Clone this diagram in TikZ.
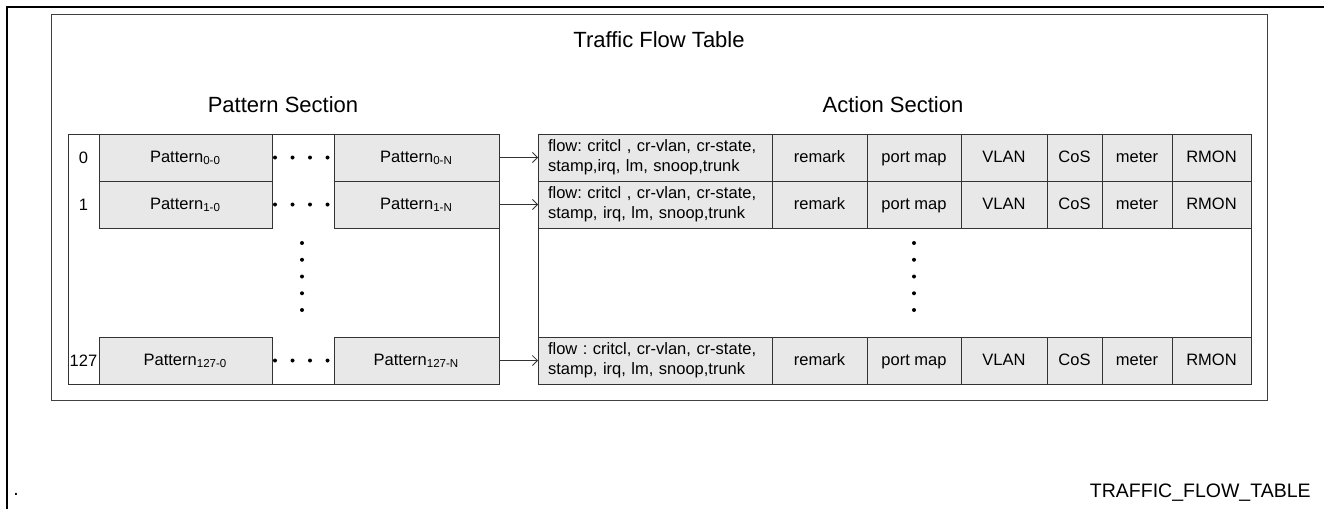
\documentclass[tikz,border=0pt]{standalone}
\usepackage{fontspec}
\setmainfont{Liberation Sans}
\usetikzlibrary{positioning,arrows.meta,fit,backgrounds}

\definecolor{cellgray}{RGB}{232,232,232}
\newcommand\cellfont{\fontsize{8.25}{10}\selectfont\frenchspacing}
\newcommand\headfont{\fontsize{11}{13}\selectfont}
\newcommand\notefont{\fontsize{9.75}{12}\selectfont}

\begin{document}
\begin{tikzpicture}[
  x=0.5pt, y=-0.5pt,
  font=\cellfont,
  cellbase/.style={draw=black!80, fill=cellgray, minimum height=23.5pt,
               inner xsep=1pt, inner ysep=1pt, outer sep=0pt},
  cell/.style={cellbase, align=center, text height=6.2pt, text depth=1.7pt},
  idx/.style ={minimum width=15.5pt, minimum height=23.5pt,
               inner sep=0pt, outer sep=0pt},
  pat/.style ={cell, minimum width=86.5pt},
  patn/.style={cell, minimum width=82.5pt},
  flow/.style={cellbase, align=left, text width=107pt, inner xsep=5pt},
  head/.style={font=\headfont, inner sep=0pt},
  tab/.style ={draw=black!80, inner sep=0pt},
  arr/.style ={-{Straight Barb[length=2.5pt,width=5pt]}, draw=black!80},
]

\useasboundingbox (0,0) rectangle (1324,509);

\node[head, anchor=base] (title) at (659,47) {Traffic Flow Table};
\node[head, anchor=base] (psec) at (283,112) {Pattern Section};
\node[head, anchor=base] (asec) at (893,112) {Action Section};

% row 0
\node[idx, anchor=north west] (i0) at (68,134) {0};
\node[pat, right=0pt of i0] (p0a) {Pattern\textsubscript{0-0}};
\node[patn, right=31pt of p0a] (p0n) {Pattern\textsubscript{0-N}};
\node[flow, right=19.5pt of p0n] (f0)
  {flow: critcl , cr-vlan, cr-state,\\stamp,irq, lm, snoop,trunk};
\node[cell, minimum width=47.5pt, right=0pt of f0] (rm0) {remark};
\node[cell, minimum width=47pt, right=0pt of rm0] (pm0) {port map};
\node[cell, minimum width=43pt, right=0pt of pm0] (vl0) {VLAN};
\node[cell, minimum width=27.5pt, right=0pt of vl0] (cs0) {CoS};
\node[cell, minimum width=35pt, right=0pt of cs0] (mt0) {meter};
\node[cell, minimum width=39.5pt, right=0pt of mt0] (rn0) {RMON};

% row 1
\node[idx, below=0pt of i0] (i1) {1};
\node[pat, right=0pt of i1] (p1a) {Pattern\textsubscript{1-0}};
\node[patn, right=31pt of p1a] (p1n) {Pattern\textsubscript{1-N}};
\node[flow, right=19.5pt of p1n] (f1)
  {flow: critcl , cr-vlan, cr-state,\\stamp, irq, lm, snoop,trunk};
\node[cell, minimum width=47.5pt, right=0pt of f1] (rm1) {remark};
\node[cell, minimum width=47pt, right=0pt of rm1] (pm1) {port map};
\node[cell, minimum width=43pt, right=0pt of pm1] (vl1) {VLAN};
\node[cell, minimum width=27.5pt, right=0pt of vl1] (cs1) {CoS};
\node[cell, minimum width=35pt, right=0pt of cs1] (mt1) {meter};
\node[cell, minimum width=39.5pt, right=0pt of mt1] (rn1) {RMON};

% row 127
\node[idx, below=54.5pt of i1] (i127) {127};
\node[pat, right=0pt of i127] (p127a) {Pattern\textsubscript{127-0}};
\node[patn, right=31pt of p127a] (p127n) {Pattern\textsubscript{127-N}};
\node[flow, right=19.5pt of p127n] (f127)
  {flow : critcl, cr-vlan, cr-state,\\stamp, irq, lm, snoop,trunk};
\node[cell, minimum width=47.5pt, right=0pt of f127] (rm127) {remark};
\node[cell, minimum width=47pt, right=0pt of rm127] (pm127) {port map};
\node[cell, minimum width=43pt, right=0pt of pm127] (vl127) {VLAN};
\node[cell, minimum width=27.5pt, right=0pt of vl127] (cs127) {CoS};
\node[cell, minimum width=35pt, right=0pt of cs127] (mt127) {meter};
\node[cell, minimum width=39.5pt, right=0pt of mt127] (rn127) {RMON};

\begin{scope}[on background layer]
  \node[tab, fit=(i0)(p127n)] (ptab) {};
  \node[tab, fit=(f0)(rn127)] (atab) {};
  \node[draw=black!75, line width=0.75pt, inner sep=8pt,
        fit=(title)(ptab)(atab)] (frame) {};
\end{scope}

\draw[arr] (p0n) -- (f0);
\draw[arr] (p1n) -- (f1);
\draw[arr] (p127n) -- (f127);

% dots
\foreach \y in {157.5,204.5,360.5}
  \foreach \x in {275,292.5,310,327.5}
    \fill (\x,\y) circle (1pt);
\foreach \k in {0,...,4} {
  \fill (302,243+16.75*\k) circle (1pt);
  \fill (914,243+16.75*\k) circle (1pt);
}

\draw[line width=1pt] (1324,7) -- (7,7) -- (7,509);

\node[font=\notefont, anchor=base west, inner sep=0pt] (mark) at (13,495) {.};
\node[font=\notefont, anchor=base east, inner sep=0pt] (figname) at (1311,497)
  {TRAFFIC\_FLOW\_TABLE};

\end{tikzpicture}
\end{document}
